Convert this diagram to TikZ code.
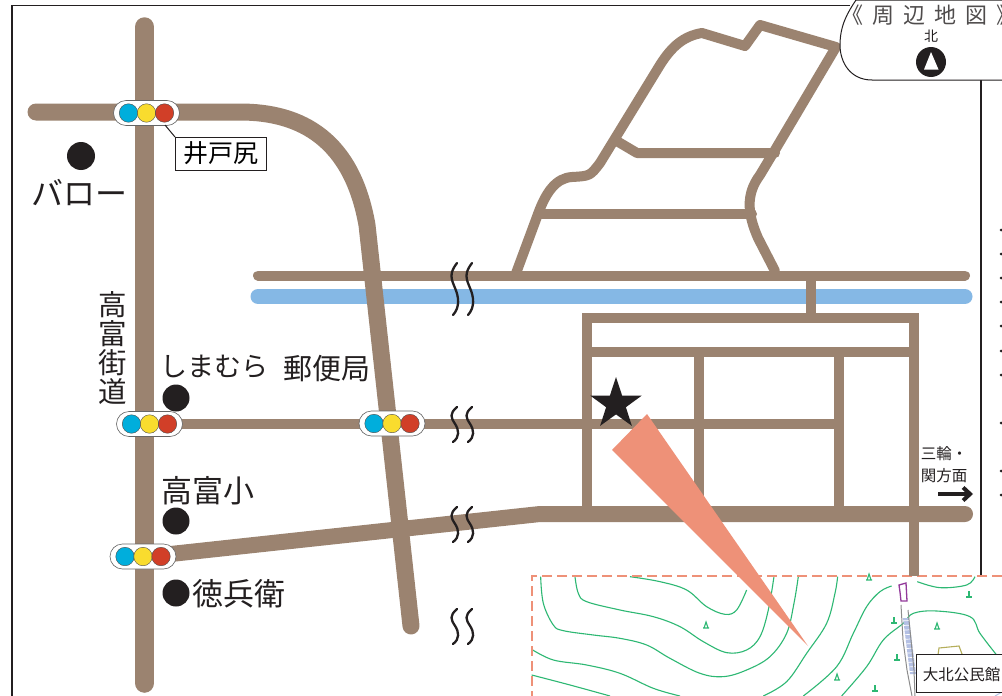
\documentclass[tikz,border=0pt]{standalone}
\usepackage{fontspec}
\setmainfont{Noto Sans CJK JP}
\usetikzlibrary{shapes.geometric,arrows.meta}
\definecolor{roadc}{HTML}{9B8370}
\definecolor{riverc}{HTML}{85B8E5}
\definecolor{salmonc}{HTML}{EE9178}
\definecolor{contourc}{HTML}{2DB873}
\definecolor{inkc}{HTML}{231F20}
\definecolor{lblue}{HTML}{00AEDC}
\definecolor{lyellow}{HTML}{F9DC2E}
\definecolor{lred}{HTML}{D13F28}
\definecolor{hatchc}{HTML}{B4C0E4}
\definecolor{purplec}{HTML}{93399A}
\definecolor{hutc}{HTML}{B5AE5A}
\tikzset{
  road/.style={draw=roadc,line cap=round,line join=round},
  thinroad/.style={draw=roadc,line width=10pt,line join=miter},
  capsule/.style={draw=black!60,line width=0.6pt,fill=white,rounded corners=12.5pt,minimum width=66pt,minimum height=25pt,inner sep=0pt},
  lamp/.style={circle,draw=black!70,line width=0.4pt,minimum size=18.5pt,inner sep=0pt},
  spot/.style={circle,fill=inkc,inner sep=0pt,minimum size=27pt},
  lbl/.style={inner sep=0pt,text=inkc},
  wavy/.style={draw=inkc,line width=2.3pt,line cap=round},
  contour/.style={draw=contourc,line width=1.1pt,smooth,tension=0.6},
  tagbox/.style={draw=inkc,line width=1pt,fill=white,inner sep=0pt},
  tree/.style={draw=contourc,line width=1.1pt},
}
\newcommand{\tlight}[3]{%
  \node[capsule] (#1) at (#2,#3) {};
  \node[lamp,fill=lblue] (#1b) at (#2-18,#3) {};
  \node[lamp,fill=lyellow] (#1y) at (#2,#3) {};
  \node[lamp,fill=lred] (#1r) at (#2+18,#3) {};
}
\newcommand{\breakmark}[2]{%
  \foreach \xx in {455,470}{%
    \draw[wavy] (\xx+2,#1) .. controls (\xx-6,#1+#2*0.2) and (\xx-4,#1+#2*0.3) .. (\xx,#1+#2*0.48)
       .. controls (\xx+4,#1+#2*0.66) and (\xx+5,#1+#2*0.85) .. (\xx-2,#1+#2);
  }%
}
\newcommand{\cj}[1]{\makebox[31pt][c]{#1}}
\begin{document}
\begin{tikzpicture}[x=1pt,y=-1pt]
\useasboundingbox (0,0) rectangle (1002,696);
\clip (0,0) rectangle (1002,696);
\fill[white] (0,0) rectangle (1002,696);
% frame
\draw[inkc,line width=1.4pt] (850,5.5) -- (12,5.5) -- (12,696);
\draw[inkc,line width=1.4pt] (981,78) -- (981,576);
% right-edge marks
\foreach \yy in {230,254,278,302,326,351,375,423,471,495}{\fill[inkc] (1001,\yy-1.5) -- (999.5,\yy) -- (1001,\yy+1.5) -- (1002.5,\yy) -- cycle;}
% contours
\begin{scope}[shift={(520,560)},x=0.3333pt,y=-0.3333pt]
\draw[contour] plot coordinates {(62,50)(70,130)(100,195)(130,212)(220,225)(300,235)(380,255)(450,295)(540,340)(610,350)(680,330)(750,290)(800,220)(822,130)(835,50)};
\draw[contour] plot coordinates {(165,50)(175,100)(200,125)(300,150)(400,170)(480,200)(550,245)(620,278)(680,270)(720,230)(745,150)(762,50)};
\draw[contour] plot coordinates {(330,50)(420,65)(500,90)(560,140)(615,163)(650,150)(680,90)};
\draw[contour] plot coordinates {(35,268)(100,300)(200,315)(300,340)(400,385)(480,408)};
\draw[contour] plot coordinates {(35,345)(150,375)(270,408)};
\draw[contour] plot coordinates {(730,408)(800,365)(860,280)(920,190)(945,100)(953,50)};
\draw[contour] plot coordinates {(850,408)(950,320)(1000,220)(1040,140)(1080,95)(1115,78)};
\draw[contour] plot coordinates {(965,408)(1040,320)(1090,240)(1150,190)(1180,160)(1250,153)(1350,170)(1380,220)(1430,285)};
\draw[contour] plot coordinates {(1192,65)(1260,83)(1340,75)(1365,50)};
\end{scope}
% tree marks
\foreach \tx/\ty in {706/625,869/577,937/626,837/677}{\draw[tree] (\tx-3,\ty+3) -- (\tx+3,\ty+3) (\tx-2,\ty+3) -- (\tx,\ty-3) -- (\tx+2,\ty+3);}
\foreach \tx/\ty in {969/594,894/620,897/657,875/688}{\draw[tree] (\tx-3,\ty+3) -- (\tx+3,\ty+3) (\tx,\ty+3) -- (\tx,\ty-3);}
% community road and buildings
\fill[hatchc] (903,618) -- (909,618) -- (916,674) -- (910,674) -- cycle;
\foreach \yy in {0,...,11}{\draw[white,line width=0.7pt] (901+\yy*0.7,621+\yy*4.6) -- (918+\yy*0.7,620+\yy*4.6);}
\draw[black!45,line width=1pt] (901,605) -- (903,640) -- (907,670) -- (912,696);
\draw[black!45,line width=1pt] (908,610) -- (911,640) -- (914,670) -- (915,696);
\draw[purplec,line width=1.3pt] (899,585) -- (906,583) -- (907,601) -- (901,601) -- (900,592) -- cycle;
\draw[hutc,line width=1.1pt] (938,655) -- (939,648) -- (959,646) -- (962,654);
\draw[hatchc,line width=1pt] (995,696) -- (1002,692);
% dashed map border
\draw[salmonc,line width=2pt,dash pattern=on 10pt off 5pt] (1002,576) -- (532,576) -- (532,696);
% river
\draw[road,draw=riverc,line width=15pt] (258,296.5) -- (965,296.5);
% roads
\draw[road,line width=10pt] (258,275.5) -- (965,275.5);
\draw[thinroad] (811,275) -- (811,318);
\draw[thinroad] (587,510) -- (587,318) -- (914,318) -- (914,576);
\draw[thinroad] (587,352) -- (914,352);
\draw[thinroad] (699,352) -- (699,514);
\draw[thinroad] (839,352) -- (839,514);
\draw[road,line width=10pt] (515,276) -- (538,214) .. controls (546,192) and (556,178) .. (572,177) .. controls (590,176) and (590,176) .. (600,163) -- (660,65) .. controls (672,46) and (684,36) .. (702,33) -- (745,46) -- (760,25) -- (836,47) -- (775,150) -- (760,175) .. controls (745,195) and (748,215) .. (758,238) -- (775,271);
\draw[road,line width=10pt] (538,214) -- (752,214);
\draw[road,line width=10pt] (615,140) -- (637,153) -- (775,153);
\draw[road,line width=10pt,line cap=butt] (145,424) -- (587,424) (587,424) -- (839,424);
\draw[road,line width=16pt] (143,557) -- (540,514) -- (965,514);
\draw[road,line width=17pt] (36,112) -- (240,112) .. controls (302,112) and (352,140) .. (367,225) -- (411,626);
\draw[road,line width=19.5pt] (144.5,27) -- (144.5,683);
% breaks
\breakmark{263}{52}
\breakmark{407}{35}
\breakmark{507}{35}
\breakmark{609}{35}
% lights
\tlight{la}{146.5}{113}
\tlight{lb}{149.5}{424}
\tlight{lc}{392}{423.5}
\tlight{ld}{143}{556.5}
% label boxes
\node[tagbox,minimum width=91pt,minimum height=33pt,font=\fontsize{25}{25}\selectfont] (ido) at (220.5,153.5) {井戸尻};
\coordinate (idolink) at (175,137);
\draw[inkc,line width=1pt] (165,125) -- (idolink);
% spots and names
\node[spot,minimum size=28pt] (s1) at (81,156) {};
\node[lbl,font=\fontsize{32}{32}\selectfont] (t1) at (79,193) {バロー};
\node[lbl,font=\fontsize{28.5}{29}\selectfont,align=center] (t2) at (113,348) {高\\富\\街\\道};
\node[spot] (s2) at (176,398) {};
\node[lbl,font=\fontsize{27}{27}\selectfont] (t3) at (214,367) {しまむら};
\node[lbl,font=\fontsize{29}{29}\selectfont] (t4) at (326.5,369) {郵便局};
\node[spot] (s3) at (176,521) {};
\node[lbl,font=\fontsize{31}{31}\selectfont] (t5) at (208,491) {高富小};
\node[spot] (s4) at (176,593) {};
\node[lbl,font=\fontsize{31}{31}\selectfont] (t6) at (238.5,594) {徳兵衛};
% star and wedge
\fill[salmonc] (647,414) -- (612,450) -- (808,646) -- cycle;
\node[star,star points=5,star point ratio=2.6,fill=inkc,inner sep=0pt,minimum size=54pt] (star) at (616,404) {};
% direction
\node[lbl,font=\fontsize{15.5}{22}\selectfont,align=left] (t7) at (944,465) {三輪・\\関方面};
\coordinate (arrowa) at (938,494);
\coordinate (arrowb) at (973,494);
\draw[inkc,line width=4.5pt,-{Straight Barb[length=7pt,width=13pt,line width=4pt]}] (arrowa) -- (arrowb);
% community centre tag
\node[tagbox,anchor=west,minimum width=90pt,minimum height=38pt] (kan) at (916,673) {};
\node[lbl,font=\fontsize{15.5}{15.5}\selectfont] (t8) at (961.5,675) {大北公民館};
% compass capsule
\draw[inkc,line width=1.2pt] (977,0) -- (977,15);
\filldraw[draw=inkc,line width=1pt,fill=white] (1010,80) -- (872,80) .. controls (850,80) and (840,62) .. (840,45) .. controls (840,25) and (848,12) .. (856,0) -- (1010,0);
\node[lbl,text=inkc!80,anchor=west,font=\fontsize{22}{22}\selectfont] (title) at (837,15) {\cj{《}\cj{周}\cj{辺}\cj{地}\cj{図}\makebox[10pt][l]{\hspace{4pt}》}};
\node[lbl,font=\fontsize{14}{14}\selectfont] (north) at (931,36) {北};
\node[spot,minimum size=30pt] (nc) at (931,62) {};
\fill[white] (931,52) -- (938.5,69.5) -- (924,69.5) -- cycle;
\end{tikzpicture}
\end{document}
